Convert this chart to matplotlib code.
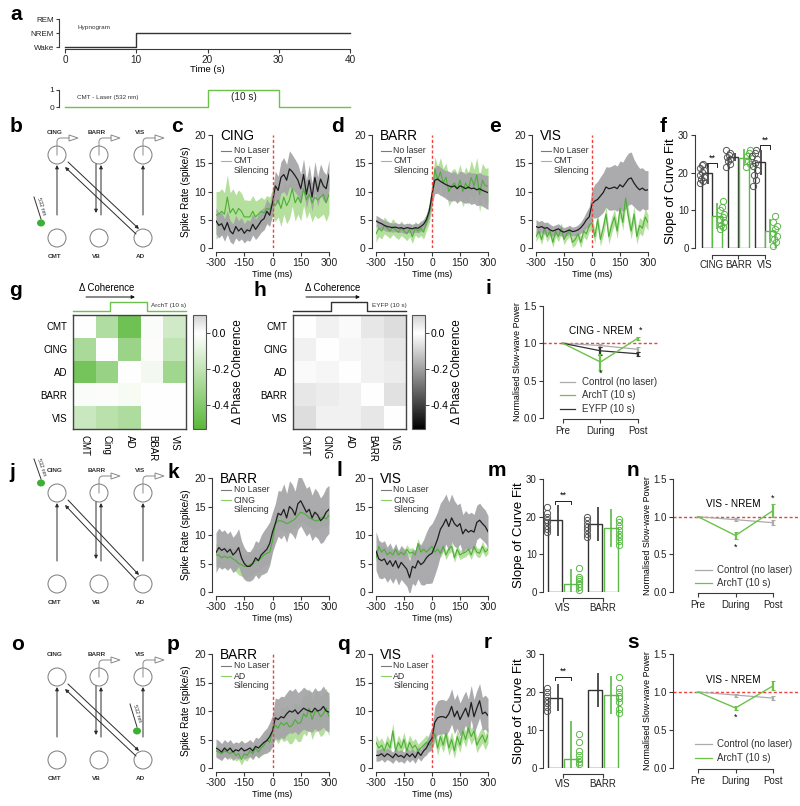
import numpy as np
import matplotlib
matplotlib.use("Agg")
import matplotlib.pyplot as plt
from matplotlib.colors import LinearSegmentedColormap
from matplotlib.patches import Circle, Polygon, Ellipse

plt.rcParams['font.family'] = ['Liberation Sans', 'DejaVu Sans']
plt.rcParams['axes.linewidth'] = 0.8
plt.rcParams['axes.unicode_minus'] = False

# ---------------------------------------------------------------- data
HYPNO_T = [0, 10, 10, 40]
HYPNO_STATE = [0, 0, 1, 1]
HYPNO_LABELS = ['Wake', 'NREM', 'REM']
LASER_T = [0, 20, 20, 30, 30, 40]
LASER_ON = [0, 0, 1, 1, 0, 0]

T_MS = np.arange(-300, 301, 15)
TIME_TICKS = [-300, -150, 0, 150, 300]

# panel c : CING, CMT silencing
C_NOLASER = [4.8, 4.0, 4.3, 3.2, 4.5, 3.0, 2.5, 3.8, 3.0, 3.5,
             2.6, 3.2, 3.0, 4.2, 3.3, 4.0, 4.8, 5.2, 6.5, 5.8,
             8.0, 11.0, 10.2, 12.5, 13.0, 12.0, 14.0, 13.5, 12.8, 12.0,
             10.5, 13.0, 9.5, 12.0, 9.0, 12.5, 10.0, 12.2, 11.0, 10.5,
             13.0]
C_NOLASER_SEM = [2.3, 2.2, 2.0, 2.0, 2.1, 1.9, 1.8, 2.0, 1.8, 1.9,
                 1.7, 1.8, 1.8, 1.9, 1.8, 1.9, 2.0, 2.0, 2.2, 2.0,
                 2.2, 2.6, 2.5, 2.8, 3.0, 2.8, 3.2, 3.0, 2.9, 2.8,
                 2.6, 2.8, 2.5, 2.7, 2.5, 2.8, 2.6, 2.7, 2.6, 2.5,
                 2.6]
C_SIL = [5.8, 6.0, 6.5, 6.0, 9.0, 6.2, 7.0, 6.0, 7.0, 6.5,
         5.5, 5.5, 5.5, 6.5, 5.5, 6.0, 6.5, 6.2, 7.0, 6.8,
         8.0, 7.5, 8.5, 7.0, 9.0, 7.5, 8.5, 10.5, 8.0, 9.0,
         8.0, 10.5, 8.5, 9.5, 8.0, 9.0, 8.5, 9.0, 9.5, 8.0,
         9.5]
C_SIL_SEM = [4.2, 4.0, 4.0, 3.8, 4.0, 3.6, 3.5, 3.4, 3.3, 3.2,
             3.0, 3.0, 2.9, 2.8, 2.8, 2.6, 2.5, 2.4, 2.3, 2.2,
             2.4, 2.8, 3.0, 3.2, 3.0, 3.2, 3.3, 3.1, 3.2, 3.0,
             3.2, 3.0, 3.3, 3.1, 3.4, 3.2, 3.3, 3.4, 3.5, 3.3,
             3.4]

# panel d : BARR, CMT silencing
D_NOLASER = [4.8, 4.5, 4.3, 4.0, 3.8, 3.7, 3.6, 3.7, 3.5, 3.6,
             3.4, 3.6, 3.5, 3.4, 3.6, 3.5, 3.8, 4.2, 5.0, 6.5,
             9.5, 12.0, 12.2, 11.8, 11.5, 11.2, 11.0, 10.8, 11.0, 10.5,
             11.0, 10.8, 10.5, 10.8, 10.5, 10.6, 10.3, 10.5, 10.2, 10.0,
             9.8]
D_NOLASER_SEM = [1.0, 1.0, 0.9, 0.9, 0.9, 0.8, 0.8, 0.8, 0.8, 0.8,
                 0.8, 0.8, 0.8, 0.8, 0.8, 0.8, 0.9, 0.9, 1.0, 1.2,
                 1.8, 2.4, 2.5, 2.5, 2.4, 2.5, 2.6, 2.5, 2.6, 2.5,
                 2.6, 2.7, 2.6, 2.7, 2.8, 2.7, 2.8, 2.9, 2.8, 2.9,
                 3.0]
D_SIL = [2.5, 3.5, 3.0, 4.0, 3.5, 3.0, 3.8, 3.2, 2.8, 3.5,
         3.0, 2.5, 3.3, 2.0, 3.5, 3.0, 3.5, 2.8, 4.5, 6.0,
         9.0, 14.0, 12.0, 13.5, 11.5, 12.5, 10.0, 11.0, 11.5, 10.5,
         12.0, 10.0, 11.5, 10.5, 12.5, 11.0, 13.0, 9.5, 12.0, 11.0,
         11.0]
D_SIL_SEM = [1.5, 1.5, 1.4, 1.5, 1.4, 1.3, 1.4, 1.3, 1.3, 1.3,
             1.2, 1.2, 1.3, 1.2, 1.2, 1.2, 1.3, 1.2, 1.4, 1.6,
             2.0, 2.2, 2.4, 2.5, 2.6, 2.5, 2.6, 2.7, 2.6, 2.7,
             2.8, 2.7, 2.9, 2.8, 3.0, 2.9, 3.0, 3.1, 3.0, 3.1,
             3.2]

# panel e : VIS, CMT silencing
E_NOLASER = [3.8, 3.6, 3.8, 3.5, 3.6, 3.2, 3.0, 3.2, 3.4, 3.0,
             2.8, 3.0, 3.2, 2.9, 3.0, 3.2, 3.6, 4.2, 5.0, 5.5,
             7.8, 8.3, 8.6, 9.2, 9.8, 10.8, 10.5, 10.6, 10.8, 10.5,
             11.2, 10.8, 11.5, 12.2, 12.4, 11.5, 10.8, 10.3, 10.6, 10.2,
             10.3]
E_NOLASER_SEM = [1.2, 1.1, 1.1, 1.0, 1.0, 1.0, 0.9, 0.9, 0.9, 0.9,
                 0.8, 0.8, 0.8, 0.8, 0.8, 0.9, 1.0, 1.2, 1.4, 1.8,
                 2.5, 3.0, 3.2, 3.4, 3.5, 3.6, 3.8, 3.9, 4.0, 4.0,
                 4.2, 4.4, 4.6, 4.6, 4.6, 4.2, 4.0, 3.8, 3.6, 3.5,
                 3.4]
E_SIL = [2.0, 3.0, 1.5, 3.5, 2.0, 3.0, 1.0, 3.0, 2.0, 3.5,
         1.5, 2.5, 3.0, 1.0, 1.5, 2.5, 1.0, 3.0, 2.5, 4.0,
         4.5, 2.0, 5.0, 1.5, 3.5, 6.0, 2.0, 4.0, 5.5, 3.0,
         7.0, 4.5, 8.8, 5.5, 3.0, 6.0, 2.0, 4.0, 3.5, 5.5,
         4.5]
E_SIL_SEM = [0.9, 1.0, 0.9, 1.0, 0.9, 1.0, 0.9, 1.0, 0.9, 1.0,
             0.9, 1.0, 1.0, 0.9, 1.0, 0.9, 1.0, 1.0, 1.1, 1.1,
             1.2, 1.2, 1.3, 1.2, 1.3, 1.4, 1.3, 1.4, 1.4, 1.3,
             1.5, 1.4, 1.6, 1.5, 1.4, 1.5, 1.3, 1.4, 1.4, 1.5,
             1.4]

# panel k : BARR, CING silencing
K_NOLASER = [6.9, 7.8, 7.3, 7.6, 7.0, 7.5, 6.5, 7.0, 7.8, 6.0,
             5.0, 4.5, 4.5, 5.0, 6.0, 5.5, 6.5, 7.0, 7.5, 8.5,
             10.5, 12.0, 13.8, 13.5, 14.5, 13.0, 15.0, 14.5, 13.5, 15.5,
             16.0, 15.0, 14.0, 14.5, 13.0, 14.0, 13.5, 12.5, 13.0, 14.0,
             14.5]
K_NOLASER_SEM = [3.5, 3.4, 3.3, 3.3, 3.2, 3.2, 3.1, 3.2, 3.3, 3.0,
                 2.8, 2.6, 2.6, 2.8, 3.0, 3.2, 3.5, 3.8, 4.0, 3.8,
                 3.5, 3.5, 4.0, 4.2, 4.5, 4.3, 4.5, 4.4, 4.2, 4.5,
                 4.4, 4.3, 4.2, 4.1, 4.0, 4.2, 4.1, 4.0, 4.2, 4.3,
                 4.2]
K_SIL = [6.5, 6.5, 6.0, 6.3, 6.0, 6.2, 5.8, 5.5, 5.0, 4.8,
         4.5, 4.5, 4.8, 5.0, 5.5, 5.5, 6.0, 6.5, 6.8, 7.0,
         9.0, 12.0, 12.5, 12.5, 12.3, 12.0, 12.2, 12.5, 12.8, 13.5,
         14.0, 13.8, 13.5, 13.0, 12.8, 12.5, 12.5, 13.0, 13.2, 12.8,
         13.5]
K_SIL_SEM = [2.0, 2.0, 1.9, 1.9, 1.9, 1.9, 1.9, 1.9, 2.0, 2.0,
             2.0, 2.1, 2.1, 2.0, 2.0, 2.0, 1.9, 1.9, 1.9, 1.9,
             1.8, 1.7, 1.6, 1.6, 1.6, 1.6, 1.6, 1.6, 1.6, 1.6,
             1.7, 1.7, 1.7, 1.6, 1.6, 1.6, 1.6, 1.6, 1.6, 1.6,
             1.6]

# panel l : VIS, CING silencing
L_NOLASER = [7.2, 5.8, 5.5, 5.8, 4.8, 5.5, 4.5, 5.5, 4.2, 5.2,
             4.6, 4.0, 2.5, 4.5, 4.2, 5.5, 4.8, 5.2, 6.0, 6.5,
             6.8, 8.0, 9.3, 11.0, 11.8, 12.8, 11.5, 13.0, 12.0, 11.5,
             12.0, 10.2, 11.0, 10.5, 10.8, 10.5, 12.2, 12.6, 12.0, 11.5,
             10.6]
L_NOLASER_SEM = [3.4, 3.3, 3.2, 3.2, 3.1, 3.1, 3.0, 3.0, 3.0, 3.0,
                 3.0, 3.0, 3.0, 3.0, 3.1, 3.2, 3.5, 4.0, 4.5, 5.0,
                 5.2, 5.0, 4.8, 4.6, 4.5, 4.4, 4.3, 4.2, 4.0, 3.8,
                 3.6, 3.4, 3.3, 3.2, 3.2, 3.1, 3.0, 3.0, 2.9, 2.9,
                 2.8]
L_SIL = [6.0, 8.0, 7.0, 7.5, 6.5, 7.0, 6.5, 7.5, 6.5, 7.0,
         6.5, 7.5, 6.8, 7.0, 6.5, 8.5, 7.0, 7.5, 7.0, 7.5,
         8.0, 7.0, 7.5, 6.8, 8.0, 6.5, 7.5, 8.0, 6.0, 7.5,
         6.5, 6.8, 7.0, 7.5, 6.5, 8.0, 7.0, 6.8, 8.0, 7.0,
         7.5]
L_SIL_SEM = [0.8, 0.9, 0.8, 0.8, 0.8, 0.8, 0.8, 0.9, 0.8, 0.8,
             0.8, 0.8, 0.8, 0.8, 0.8, 0.9, 0.8, 0.8, 0.8, 0.8,
             0.8, 0.8, 0.8, 0.8, 0.9, 0.8, 0.8, 0.9, 0.8, 0.8,
             0.8, 0.8, 0.8, 0.8, 0.8, 0.9, 0.8, 0.8, 0.9, 0.8,
             0.8]

# panel p : BARR, AD silencing
P_NOLASER = [3.5, 3.2, 2.8, 3.5, 3.0, 3.5, 2.8, 3.2, 3.0, 3.5,
             3.0, 3.2, 3.5, 3.0, 3.8, 3.5, 4.0, 4.5, 4.8, 5.5,
             6.5, 8.8, 8.5, 9.0, 8.8, 9.5, 10.0, 9.8, 10.2, 9.5,
             10.0, 10.5, 10.2, 10.0, 9.8, 10.5, 10.0, 10.2, 10.8, 10.0,
             9.8]
P_NOLASER_SEM = [1.6, 1.6, 1.5, 1.5, 1.5, 1.5, 1.5, 1.4, 1.4, 1.4,
                 1.4, 1.4, 1.5, 1.5, 1.6, 1.7, 1.8, 2.0, 2.2, 2.5,
                 2.8, 3.5, 3.6, 3.6, 3.7, 3.7, 3.8, 3.7, 3.8, 3.7,
                 3.6, 3.7, 3.6, 3.6, 3.5, 3.6, 3.5, 3.5, 3.6, 3.5,
                 3.4]
P_SIL = [3.0, 2.8, 2.5, 3.0, 2.8, 2.5, 3.0, 2.2, 2.5, 1.5,
         2.5, 2.2, 3.0, 2.5, 3.5, 2.8, 3.5, 4.0, 5.0, 4.5,
         6.5, 7.5, 7.0, 8.0, 7.5, 8.0, 7.2, 7.5, 8.5, 7.8,
         8.0, 9.5, 9.0, 10.5, 8.5, 9.8, 10.0, 9.0, 9.5, 10.5,
         9.0]
P_SIL_SEM = [1.0, 1.0, 1.0, 1.0, 1.0, 1.0, 1.0, 1.0, 1.0, 1.0,
             1.0, 1.0, 1.0, 1.0, 1.1, 1.1, 1.2, 1.3, 1.5, 1.7,
             2.0, 2.5, 2.7, 2.8, 2.9, 3.0, 3.0, 3.1, 3.2, 3.2,
             3.3, 3.4, 3.4, 3.5, 3.5, 3.5, 3.5, 3.5, 3.6, 3.5,
             3.4]

# panel q : VIS, AD silencing
Q_NOLASER = [2.2, 2.2, 2.5, 2.0, 2.5, 2.2, 1.8, 2.5, 2.0, 2.2,
             1.8, 2.5, 2.0, 2.5, 1.8, 2.8, 2.2, 3.0, 3.5, 4.5,
             5.2, 8.0, 8.8, 9.0, 9.0, 8.8, 9.5, 10.8, 9.0, 10.0,
             8.5, 9.5, 10.5, 9.0, 11.5, 9.0, 10.5, 11.8, 9.5, 9.8,
             9.2]
Q_NOLASER_SEM = [1.0, 1.0, 1.0, 1.0, 1.0, 1.0, 1.0, 1.0, 1.0, 1.0,
                 1.0, 1.0, 1.0, 1.0, 1.0, 1.0, 1.0, 1.1, 1.2, 1.5,
                 2.0, 2.8, 3.0, 3.0, 3.0, 3.0, 3.0, 3.1, 3.0, 3.0,
                 2.9, 3.0, 3.0, 3.1, 3.0, 3.0, 3.1, 3.0, 2.9, 3.0,
                 3.0]
Q_SIL = [4.5, 3.5, 4.0, 3.0, 4.5, 3.5, 6.5, 3.0, 4.5, 3.5,
         5.0, 3.0, 4.5, 3.5, 4.0, 3.0, 3.5, 4.0, 4.5, 4.0,
         4.5, 6.0, 3.5, 5.5, 4.0, 6.0, 3.5, 5.0, 3.0, 5.5,
         4.0, 6.5, 5.0, 7.0, 5.5, 6.5, 4.0, 5.0, 5.8, 4.5,
         5.8]
Q_SIL_SEM = [1.3, 1.2, 1.3, 1.2, 1.3, 1.2, 1.4, 1.2, 1.3, 1.2,
             1.3, 1.2, 1.3, 1.2, 1.2, 1.2, 1.2, 1.2, 1.3, 1.2,
             1.3, 1.4, 1.3, 1.4, 1.3, 1.4, 1.3, 1.4, 1.3, 1.4,
             1.3, 1.4, 1.4, 1.5, 1.4, 1.4, 1.3, 1.4, 1.4, 1.3,
             1.4]

# bar panels (slope of curve fit)
F_CATS = ['CING', 'BARR', 'VIS']
F_CTRL = [19.8, 24.2, 22.7]
F_CTRL_SEM = [2.7, 1.0, 3.2]
F_SIL = [8.5, 24.0, 4.5]
F_SIL_SEM = [3.5, 2.2, 3.3]
F_CTRL_DOTS = [[17.2, 17.8, 18.3, 18.9, 19.4, 20.1, 20.6, 21.3, 22.0, 22.4],
               [21.5, 22.3, 23.0, 23.6, 24.2, 24.8, 25.3, 26.0],
               [16.5, 18.0, 19.5, 20.8, 21.8, 22.5, 23.5, 24.3, 25.2, 26.0]]
F_SIL_DOTS = [[5.0, 5.5, 6.2, 7.0, 7.5, 8.3, 9.0, 10.0, 10.8, 12.5],
              [21.5, 22.2, 23.0, 23.8, 24.5, 25.2, 26.0],
              [0.5, 1.5, 2.5, 3.3, 4.0, 5.0, 5.8, 6.8, 8.5]]

M_CATS = ['VIS', 'BARR']
M_CTRL = [19.0, 18.0]
M_CTRL_SEM = [4.0, 4.5]
M_SIL = [2.0, 17.0]
M_SIL_SEM = [4.0, 5.0]
M_CTRL_DOTS = [[16.0, 16.8, 17.5, 18.5, 19.2, 20.0, 21.0, 22.5],
               [14.5, 15.5, 16.5, 17.3, 18.0, 19.0, 20.0]]
M_SIL_DOTS = [[0.5, 1.2, 2.0, 2.8, 3.5, 4.0, 6.5],
              [12.5, 13.5, 14.5, 15.5, 16.5, 17.5, 18.5, 19.5]]

R_CATS = ['VIS', 'BARR']
R_CTRL = [18.5, 20.5]
R_CTRL_SEM = [3.5, 4.5]
R_SIL = [2.3, 19.3]
R_SIL_SEM = [10.2, 5.0]
R_CTRL_DOTS = [[15.0, 16.0, 17.0, 18.0, 19.0, 20.0, 21.0], []]
R_SIL_DOTS = [[1.1, 1.6, 2.5, 3.3, 4.6, 6.8, 9.0],
              [14.5, 15.5, 17.5, 18.5, 19.0, 20.0, 21.0, 24.0]]

# coherence matrices
REGIONS_G = ['CMT', 'Cing', 'AD', 'BBAR', 'VIS']
REGIONS_H = ['CMT', 'CING', 'AD', 'BARR', 'VIS']
REGIONS_ROWS = ['CMT', 'CING', 'AD', 'BARR', 'VIS']
G_COH = [[0.00, -0.25, -0.46, -0.02, -0.15],
         [-0.27, 0.00, -0.32, -0.01, -0.20],
         [-0.44, -0.33, 0.00, -0.04, -0.30],
         [-0.02, -0.01, -0.03, 0.00, 0.00],
         [-0.17, -0.22, -0.26, 0.00, 0.00]]
H_COH = [[0.00, -0.03, -0.01, -0.05, -0.07],
         [-0.03, 0.00, -0.02, -0.03, -0.05],
         [-0.01, -0.02, 0.00, -0.03, -0.04],
         [-0.05, -0.04, -0.03, 0.00, -0.06],
         [-0.07, -0.03, -0.03, -0.05, 0.00]]

# slow-wave power
PHASES = ['Pre', 'During', 'Post']
I_CONTROL = [1.0, 0.97, 0.92]
I_CONTROL_SEM = [0.0, 0.02, 0.03]
I_ARCHT = [1.0, 0.75, 1.07]
I_ARCHT_SEM = [0.0, 0.11, 0.02]
I_EYFP = [1.0, 0.90, 0.86]
I_EYFP_SEM = [0.0, 0.05, 0.03]
N_CONTROL = [1.0, 0.96, 0.92]
N_CONTROL_SEM = [0.0, 0.02, 0.03]
N_ARCHT = [1.0, 0.75, 1.08]
N_ARCHT_SEM = [0.0, 0.04, 0.09]
S_CONTROL = [1.0, 0.96, 0.92]
S_CONTROL_SEM = [0.0, 0.02, 0.03]
S_ARCHT = [1.0, 0.79, 1.08]
S_ARCHT_SEM = [0.0, 0.03, 0.06]

# ---------------------------------------------------------------- style
BLACK_LINE = '#1e1e1e'
GRAY_BAND = '#a4a4a7'
GREEN_LINE = '#4caf37'
GREEN_BAND = '#b4df9c'
LEG_GRAY = '#7a7a7a'
LEG_GREEN = '#86cf66'
RED = '#f04040'
AXC = '#3a3a3a'
BAR_DARK = '#333333'
BAR_GREEN = '#5ab947'
CTRL_GRAY = '#ababab'
ARCHT_GREEN = '#6cc24a'

W, H = 800, 806
fig = plt.figure(figsize=(8, 8.06), dpi=100)


def add_ax(x0, y0, x1, y1):
    return fig.add_axes([x0 / W, 1 - y1 / H, (x1 - x0) / W, (y1 - y0) / H])


def style(ax, fs=7.5):
    for s in ['top', 'right']:
        ax.spines[s].set_visible(False)
    for s in ['left', 'bottom']:
        ax.spines[s].set_color(AXC)
        ax.spines[s].set_linewidth(0.8)
    ax.tick_params(colors='#222222', labelsize=fs, length=3, width=0.8, pad=1.5)
    ax.tick_params(color=AXC)
    ax.set_facecolor('none')


# ---------------------------------------------------------------- panel a
ax = add_ax(65, 19, 350, 47)
ax.plot(HYPNO_T, HYPNO_STATE, color='#333333', lw=1.0, clip_on=False)
ax.set_xlim(0, 40)
ax.set_ylim(0, 2)
ax.set_yticks([0, 1, 2])
ax.set_yticklabels(HYPNO_LABELS)
ax.set_xticks([0, 10, 20, 30, 40])
style(ax, 7.2)
ax.tick_params(axis='y', labelsize=5.8, length=2.5)
ax.spines['left'].set_position(('outward', 4))
ax.spines['bottom'].set_position(('outward', 1.5))
ax.set_xlabel('Time (s)', fontsize=6.8, labelpad=0)

ax = add_ax(65, 90, 350, 107)
ax.plot(LASER_T, LASER_ON, color=ARCHT_GREEN, lw=1.0, clip_on=False)
ax.set_xlim(0, 40)
ax.set_ylim(0, 1)
ax.set_yticks([0, 1])
ax.set_xticks([])
style(ax, 6)
ax.spines['bottom'].set_visible(False)
ax.spines['left'].set_position(('outward', 4))
ax.tick_params(axis='y', length=2.5)


# ---------------------------------------------------------------- time series
def ts_panel(box, mb, sb, mg, sg, title, nolaser_lbl, sil_lbl, red, ylabel, leg_y):
    x0, y0, x1, y1 = box
    ax = add_ax(x0, y0, x1, y1)
    t = T_MS
    mb, sb, mg, sg = (np.asarray(v, float) for v in (mb, sb, mg, sg))
    ax.fill_between(t, mg - sg, mg + sg, color=GREEN_BAND, lw=0, zorder=1)
    ax.fill_between(t, mb - sb, mb + sb, color=GRAY_BAND, alpha=0.92, lw=0, zorder=2)
    ax.plot(t, mg, color=GREEN_LINE, lw=0.8, zorder=3)
    ax.plot(t, mb, color=BLACK_LINE, lw=0.9, zorder=4)
    if red:
        ax.axvline(0, color=RED, ls=(0, (2.2, 1.6)), lw=1.0, zorder=5)
    ax.set_xlim(-300, 300)
    ax.set_ylim(0, 20)
    ax.set_xticks(TIME_TICKS)
    ax.set_yticks([0, 5, 10, 15, 20])
    style(ax, 7.5)
    ax.spines['left'].set_position(('outward', 3))
    ax.spines['bottom'].set_position(('outward', 3))
    ax.set_xlabel('Time (ms)', fontsize=6.5, labelpad=1)
    if ylabel:
        ax.set_ylabel('Spike Rate (spike/s)', fontsize=7.3, labelpad=2)
    ax.text(0.035, 0.99, title, transform=ax.transAxes, fontsize=9.8,
            va='center', ha='left', zorder=6)
    ya, yb, yc = leg_y
    ax.plot([0.045, 0.13], [ya, ya], transform=ax.transAxes, color=LEG_GRAY, lw=0.8, zorder=6)
    ax.plot([0.045, 0.13], [yb, yb], transform=ax.transAxes, color=LEG_GREEN, lw=0.8, zorder=6)
    for yy, s in ((ya, nolaser_lbl), (yb, sil_lbl), (yc, 'Silencing')):
        ax.text(0.155, yy, s, transform=ax.transAxes, fontsize=6.3, va='center',
                ha='left', color='#333333', zorder=6)
    return ax


LEG_TOP = (0.86, 0.77, 0.685)
LEG_MID = (0.895, 0.807, 0.72)
ts_panel((216, 135, 329, 248), C_NOLASER, C_NOLASER_SEM, C_SIL, C_SIL_SEM,
         'CING', 'No Laser', 'CMT', True, True, LEG_TOP)
ts_panel((376, 135, 488, 248), D_NOLASER, D_NOLASER_SEM, D_SIL, D_SIL_SEM,
         'BARR', 'No laser', 'CMT', True, False, LEG_TOP)
ts_panel((536, 135, 648, 248), E_NOLASER, E_NOLASER_SEM, E_SIL, E_SIL_SEM,
         'VIS', 'No Laser', 'CMT', True, False, LEG_TOP)
ts_panel((216, 478, 329, 592), K_NOLASER, K_NOLASER_SEM, K_SIL, K_SIL_SEM,
         'BARR', 'No Laser', 'CING', False, True, LEG_MID)
ts_panel((376, 478, 488, 592), L_NOLASER, L_NOLASER_SEM, L_SIL, L_SIL_SEM,
         'VIS', 'No Laser', 'CING', False, False, LEG_MID)
ts_panel((216, 654, 329, 768), P_NOLASER, P_NOLASER_SEM, P_SIL, P_SIL_SEM,
         'BARR', 'No Laser', 'AD', True, True, LEG_MID)
ts_panel((376, 654, 488, 768), Q_NOLASER, Q_NOLASER_SEM, Q_SIL, Q_SIL_SEM,
         'VIS', 'No Laser', 'AD', True, False, LEG_MID)


# ---------------------------------------------------------------- bar panels
def bar_panel(box, xlim, cats, cm, cs, sm, ss, cdots, sdots, sigs, cat_fs,
              width, off, dot_off, jitter, spine_out):
    ax = add_ax(*box)
    x = np.arange(len(cats))
    ax.bar(x - off, cm, width=width, facecolor='white', edgecolor=BAR_DARK, lw=1.0, zorder=2)
    ax.bar(x + off, sm, width=width, facecolor='white', edgecolor=BAR_GREEN, lw=1.0, zorder=2)
    ax.errorbar(x - off + width * 0.15, cm, yerr=cs, fmt='none', ecolor=BAR_DARK,
                elinewidth=1.2, capsize=0, zorder=3)
    ax.errorbar(x + off, sm, yerr=ss, fmt='none', ecolor=BAR_GREEN,
                elinewidth=1.2, capsize=0, zorder=3)
    for i in range(len(cats)):
        n = len(cdots[i])
        if n:
            jx = [jitter[k % len(jitter)] for k in range(n)]
            ax.plot(x[i] - dot_off + np.array(jx), cdots[i], 'o', ms=4.5, mfc='none',
                    mec='#555555', mew=0.7, zorder=4, clip_on=False)
        n = len(sdots[i])
        if n:
            jx = [jitter[k % len(jitter)] for k in range(n)]
            ax.plot(x[i] + dot_off + np.array(jx), sdots[i], 'o', ms=4.5, mfc='none',
                    mec=BAR_GREEN, mew=0.7, zorder=4, clip_on=False)
    for (i, yb) in sigs:
        x1, x2 = x[i] - off, x[i] + off
        ax.plot([x1, x1, x2, x2], [yb - 0.9, yb, yb, yb - 0.9], color='#222222', lw=0.7,
                clip_on=False)
        ax.text((x1 + x2) / 2, yb + 0.2, '**', ha='center', va='bottom', fontsize=6.5)
    ax.set_xlim(*xlim)
    ax.set_ylim(0, 30)
    ax.set_yticks([0, 10, 20, 30])
    ax.set_xticks(x)
    ax.set_xticklabels(cats, fontsize=cat_fs)
    style(ax, 7)
    ax.spines['bottom'].set_bounds(x[0], x[-1])
    ax.spines['bottom'].set_position(('outward', spine_out))
    ax.tick_params(axis='x', pad=1)
    ax.set_ylabel('Slope of Curve Fit', fontsize=9.5, labelpad=1)
    return ax


JIT_F = [-0.08, 0.05, -0.03, 0.08, -0.06, 0.02, 0.07, -0.09, 0.0, 0.04]
bar_panel((695, 135, 780, 248), (-0.64, 2.57), F_CATS, F_CTRL, F_CTRL_SEM, F_SIL, F_SIL_SEM,
          F_CTRL_DOTS, F_SIL_DOTS, [(0, 22.5), (2, 27.3)], 7.8, 0.38, 0.2, 0.38, JIT_F, 5)
JIT_M = [0.0]
bar_panel((543, 479, 625, 592), (-0.5, 1.55), M_CATS, M_CTRL, M_CTRL_SEM, M_SIL, M_SIL_SEM,
          M_CTRL_DOTS, M_SIL_DOTS, [(0, 24.2)], 9, 0.35, 0.19, 0.39, JIT_M, 4)
bar_panel((543, 654, 625, 768), (-0.5, 1.55), R_CATS, R_CTRL, R_CTRL_SEM, R_SIL, R_SIL_SEM,
          R_CTRL_DOTS, R_SIL_DOTS, [(0, 24.0)], 9, 0.35, 0.19, 0.39, JIT_M, 4)


# ---------------------------------------------------------------- heatmaps
VMIN, VMAX = -0.53, 0.1
Z0 = (0 - VMIN) / (VMAX - VMIN)
CMAP_G = LinearSegmentedColormap.from_list(
    'g', [(0.0, '#5ab83a'), (Z0, '#ffffff'), (1.0, '#d2d2d2')])
CMAP_H = LinearSegmentedColormap.from_list(
    'h', [(0.0, '#000000'), (Z0, '#ffffff'), (1.0, '#d2d2d2')])


def heat_panel(box, cbox, data, cmap, xlabels):
    ax = add_ax(*box)
    im = ax.imshow(np.array(data), cmap=cmap, vmin=VMIN, vmax=VMAX, aspect='auto',
                   interpolation='nearest')
    ax.set_xticks(range(5))
    ax.set_xticklabels(xlabels, rotation=-90, fontsize=7)
    ax.set_yticks(range(5))
    ax.set_yticklabels(REGIONS_ROWS, fontsize=7)
    ax.tick_params(length=0, pad=4)
    for s in ax.spines.values():
        s.set_color('#444444')
        s.set_linewidth(1.0)
    cax = add_ax(*cbox)
    cb = fig.colorbar(im, cax=cax, ticks=[0, -0.2, -0.4])
    cb.ax.set_yticklabels(['0.0', '-0.2', '-0.4'], fontsize=7.5)
    cb.outline.set_edgecolor('#555555')
    cb.outline.set_linewidth(0.8)
    cb.ax.tick_params(length=3, width=0.7, pad=1, color='#444444')
    cb.set_label('Δ Phase Coherence', fontsize=8.5, labelpad=2)


heat_panel((73, 315, 186, 429), (193, 315, 206, 429), G_COH, CMAP_G, REGIONS_G)
heat_panel((293, 315, 406, 429), (412, 315, 425, 429), H_COH, CMAP_H, REGIONS_H)


# ---------------------------------------------------------------- slow-wave power
def swp_panel(box, xlim, series, legend_items, title, title_xy, stars, leg_x, leg_y):
    ax = add_ax(*box)
    ax.axhline(1.0, color=RED, ls=(0, (2.2, 1.6)), lw=1.0, zorder=1, clip_on=False)
    xp = np.arange(3)
    for (m, s, c, lw) in series:
        ax.errorbar(xp, m, yerr=s, color=c, lw=lw, elinewidth=1.6, capsize=1.2,
                    capthick=0.8, zorder=3)
    ax.set_xlim(*xlim)
    ax.set_ylim(0, 1.5)
    ax.set_yticks([0, 0.5, 1.0, 1.5])
    ax.set_yticklabels(['0.0', '0.5', '1.0', '1.5'])
    ax.set_xticks(xp)
    ax.set_xticklabels(PHASES)
    style(ax, 7)
    ax.spines['bottom'].set_bounds(0, 2)
    ax.spines['bottom'].set_position(('outward', 1))
    ax.set_ylabel('Normalised Slow-wave Power', fontsize=6.4, labelpad=1)
    ax.text(title_xy[0], title_xy[1], title, ha='center', va='center', fontsize=7.2)
    for (sx, sy) in stars:
        ax.text(sx, sy, '*', ha='center', va='center', fontsize=6.5)
    for k, (lab, col) in enumerate(legend_items):
        ax.plot([leg_x[0], leg_x[1]], [leg_y[k], leg_y[k]], transform=ax.transAxes,
                color=col, lw=0.9)
        ax.text(leg_x[2], leg_y[k], lab, transform=ax.transAxes, fontsize=7,
                va='center', ha='left', color='#333333')
    return ax


LEG3 = [('Control (no laser)', CTRL_GRAY), ('ArchT (10 s)', ARCHT_GREEN),
        ('EYFP (10 s)', '#333333')]
swp_panel((543, 306, 657, 418), (-0.533, 2.507),
          [(I_CONTROL, I_CONTROL_SEM, CTRL_GRAY, 0.9),
           (I_EYFP, I_EYFP_SEM, '#333333', 0.9),
           (I_ARCHT, I_ARCHT_SEM, ARCHT_GREEN, 1.0)],
          LEG3, 'CING - NREM', (1.0, 1.16), [(2.08, 1.18), (1.0, 0.6)],
          (0.149, 0.28, 0.34), (0.32, 0.205, 0.08))
swp_panel((673, 479, 800, 592), (-0.667, 2.72),
          [(N_CONTROL, N_CONTROL_SEM, CTRL_GRAY, 0.9),
           (N_ARCHT, N_ARCHT_SEM, ARCHT_GREEN, 1.0)],
          LEG3[:2], 'VIS - NREM', (0.95, 1.17), [(2.0, 1.25), (1.0, 0.6)],
          (0.173, 0.307, 0.346), (0.195, 0.08))
swp_panel((673, 654, 800, 768), (-0.667, 2.72),
          [(S_CONTROL, S_CONTROL_SEM, CTRL_GRAY, 0.9),
           (S_ARCHT, S_ARCHT_SEM, ARCHT_GREEN, 1.0)],
          LEG3[:2], 'VIS - NREM', (0.95, 1.16), [(1.0, 0.67)],
          (0.173, 0.307, 0.346), (0.21, 0.088))

# ---------------------------------------------------------------- overlay (pixel coords)
ov = fig.add_axes([0, 0, 1, 1])
ov.set_xlim(0, W)
ov.set_ylim(H, 0)
ov.axis('off')
ov.patch.set_visible(False)

for (lt, x, y) in [('a', 16, 15), ('b', 16, 126), ('c', 177, 126), ('d', 337, 126),
                   ('e', 495, 126), ('f', 663, 126), ('g', 15, 290), ('h', 260, 290),
                   ('i', 488, 288), ('j', 12, 472), ('k', 173, 472), ('l', 339, 470),
                   ('m', 497, 470), ('n', 633, 470), ('o', 18, 645), ('p', 173, 645),
                   ('q', 343, 645), ('r', 488, 643), ('s', 633, 643)]:
    ov.text(x, y, lt, fontsize=15, fontweight='bold', ha='center', va='center')

ov.text(77, 27, 'Hypnogram', fontsize=4.6, ha='left', va='center', color='#333333')
ov.text(77, 98, 'CMT - Laser (532 nm)', fontsize=4.5, ha='left', va='center', color='#333333')
ov.text(244, 97, '(10 s)', fontsize=7.2, ha='center', va='center', color='#222222')


def arrow(p0, p1, color='#2a2a2a'):
    ov.annotate('', xy=p1, xytext=p0,
                arrowprops=dict(arrowstyle='-|>', color=color, lw=0.7,
                                mutation_scale=5, shrinkA=0, shrinkB=0))


def circuit(ytop, ybot, outputs, fiber):
    xs = [57, 99, 143]
    lx = [55, 97, 140]
    for i, x in enumerate(xs):
        ov.add_patch(Circle((x, ytop), 9, fill=False, ec='#7a7a7a', lw=0.7))
        ov.add_patch(Circle((x, ybot), 9, fill=False, ec='#7a7a7a', lw=0.7))
    for name, x in zip(['CING', 'BARR', 'VIS'], lx):
        ov.text(x, ytop - 22, name, fontsize=4.6, fontweight='bold', ha='center',
                va='center', color='#333333')
    for name, x in zip(['CMT', 'VB', 'AD'], [55, 96, 140]):
        ov.text(x, ybot + 18, name, fontsize=4.6, fontweight='bold', ha='center',
                va='center', color='#333333')
    arrow((57, ybot - 23), (57, ytop + 10))
    arrow((96, ytop + 9), (96, ybot - 25))
    arrow((101, ybot - 23), (101, ytop + 10))
    arrow((143, ybot - 23), (143, ytop + 10))
    arrow((68, ytop + 7), (139, ybot - 9))
    arrow((136, ybot - 4), (65, ytop + 12))
    yl = ytop - 17
    for i in outputs:
        x = xs[i]
        ov.plot([x, x, x + 1, x + 3, x + 12], [ytop, yl + 3, yl + 1, yl, yl],
                color='#888888', lw=0.7)
        ov.add_patch(Polygon([(x + 12, yl - 3), (x + 12, yl + 3), (x + 21, yl)],
                             closed=True, fill=False, ec='#888888', lw=0.7))
    if fiber is not None:
        (fx0, fy0), (fx1, fy1) = fiber
        ov.plot([fx0, fx1], [fy0, fy1], color='#333333', lw=0.7)
        ov.add_patch(Ellipse((fx1, fy1 + 4), 8, 7, color='#3cb034', ec='none'))
        ang = -np.degrees(np.arctan2(fy1 - fy0, fx1 - fx0))
        ov.text((fx0 + fx1) / 2 + 4, (fy0 + fy1) / 2 - 2, '532 nm', fontsize=4,
                rotation=ang, rotation_mode='anchor', ha='center', va='center',
                color='#333333')


circuit(155, 238, [0, 1, 2], ((34, 197), (41, 219)))
circuit(493, 584, [1, 2], ((34, 459), (41, 479)))
circuit(677, 760, [1, 2], ((130, 704), (137, 727)))

# coherence headers
ov.text(79, 288, 'Δ Coherence', fontsize=6.9, ha='left', va='center')
arrow((86, 297), (135, 297), color='#111111')
ov.plot([73, 110, 110, 147, 147, 186], [311, 311, 302, 302, 311, 311], color=ARCHT_GREEN, lw=1.0)
ov.text(151, 306, 'ArchT (10 s)', fontsize=4.6, ha='left', va='center', color='#333333')

ov.text(305, 288, 'Δ Coherence', fontsize=6.9, ha='left', va='center')
arrow((306, 297), (360, 297), color='#111111')
ov.plot([293, 331, 331, 367, 367, 406], [311, 311, 302, 302, 311, 311], color='#333333', lw=1.0)
ov.text(372, 306, 'EYFP (10 s)', fontsize=4.6, ha='left', va='center', color='#333333')

fig.savefig('out.png', dpi=100)
